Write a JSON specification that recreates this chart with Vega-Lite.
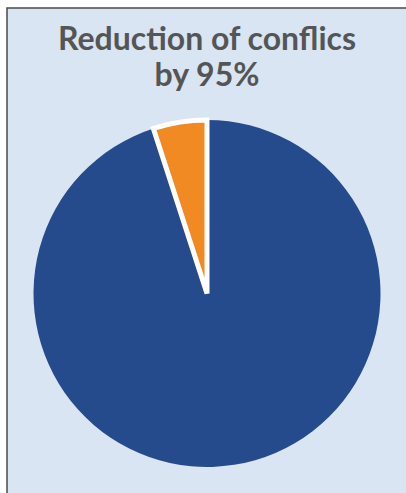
{
  "$schema": "https://vega.github.io/schema/vega-lite/v6.json",
  "width": 400,
  "height": 487,
  "autosize": "none",
  "padding": {"left": 7, "top": 8, "right": 0, "bottom": 0},
  "background": "white",
  "view": {"fill": "#d9e5f2", "stroke": "#4a4a4a", "strokeWidth": 1.5},
  "title": {
    "text": ["Reduction of conflics", "by 95%"],
    "font": "Lato",
    "fontWeight": "bold",
    "fontSize": 32,
    "color": "#555555",
    "anchor": "middle",
    "frame": "group",
    "baseline": "top",
    "lineHeight": 36,
    "offset": -22,
    "dy": 63
  },
  "data": {"values": [
    {"category": "Remaining", "value": 95, "o": 1},
    {"category": "Reduced", "value": 5, "o": 2}
  ]},
  "mark": {"type": "arc", "radius": 173.5, "yOffset": 42, "strokeWidth": 5, "strokeJoin": "miter"},
  "encoding": {
    "theta": {"field": "value", "type": "quantitative", "stack": true},
    "order": {"field": "o", "type": "quantitative"},
    "color": {"field": "category", "type": "nominal", "scale": {"domain": ["Remaining", "Reduced"], "range": ["#264b8c", "#f28a24"]}, "legend": null},
    "stroke": {"field": "category", "type": "nominal", "scale": {"domain": ["Remaining", "Reduced"], "range": ["transparent", "white"]}, "legend": null}
  }
}
